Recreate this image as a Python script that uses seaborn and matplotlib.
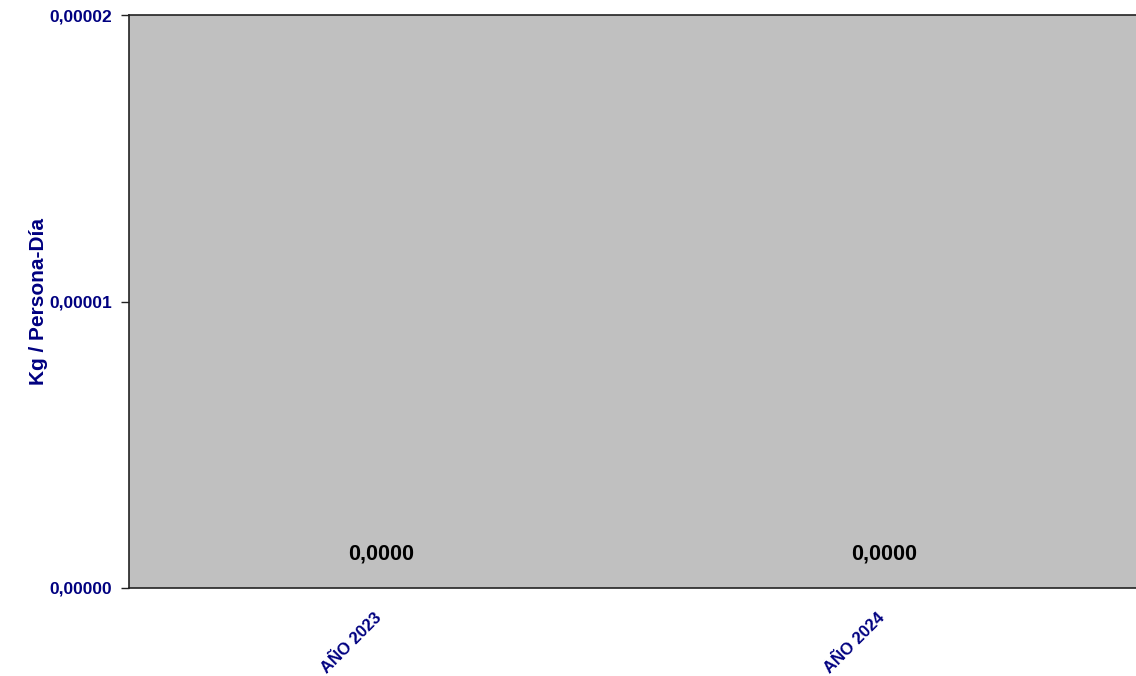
import numpy as np
import pandas as pd
import seaborn as sns
import matplotlib.pyplot as plt
import matplotlib.transforms as mtransforms
from matplotlib.ticker import FuncFormatter, FixedLocator

# data
years = ["AÑO 2023", "AÑO 2024"]
kg_persona_dia = [0.0, 0.0]
y_ticks = [0.0, 0.00001, 0.00002]

sns.set_theme(style="white")
plt.rcParams['font.family'] = ['Liberation Sans', 'DejaVu Sans']

navy = "#000080"
df = pd.DataFrame({"anio": years, "valor": kg_persona_dia})

fig = plt.figure(figsize=(11.36, 6.76), dpi=100)
ax = fig.add_axes([129 / 1136, 88 / 676, 1 - 129 / 1136, (588 - 15) / 676])
ax.set_facecolor("#C0C0C0")

sns.barplot(data=df, x="anio", y="valor", color="#9999FF", ax=ax, width=0.5)

ax.set_xlim(-0.5, 1.5)
ax.set_ylim(y_ticks[0], y_ticks[-1])
ax.yaxis.set_major_locator(FixedLocator(y_ticks))
ax.yaxis.set_major_formatter(FuncFormatter(lambda v, p: f"{v:.5f}".replace(".", ",")))

# category boundaries get the tick marks, labels sit in the middle
ax.set_xticks(range(len(years)))
ax.set_xticklabels(years, rotation=45, ha="right", rotation_mode="anchor",
                   fontsize=12, fontweight="bold", color=navy)
ax.set_xticks([-0.5, 0.5, 1.5], minor=True)
ax.tick_params(axis="x", which="major", length=0, pad=16)
ax.tick_params(axis="x", which="minor", length=5, width=1, color="#222222", direction="out")
ax.tick_params(axis="y", length=6, width=1, color="#222222", direction="out", left=True,
               labelsize=12.5, labelcolor=navy, pad=6)
for t in ax.get_yticklabels():
    t.set_fontweight("bold")

# excel puts the rotated labels a touch left of the category centre
shift = mtransforms.ScaledTranslation(-7 / 100, 0, fig.dpi_scale_trans)
for t in ax.get_xticklabels():
    t.set_transform(t.get_transform() + shift)

ax.set_xlabel("")
ax.set_ylabel("Kg / Persona-Día", fontsize=15, fontweight="bold", color=navy)
ax.yaxis.set_label_coords(-0.08, 0.5)

for side in ["left", "bottom", "top"]:
    ax.spines[side].set_visible(True)
    ax.spines[side].set_color("#222222")
    ax.spines[side].set_linewidth(1.2)
ax.spines["right"].set_visible(False)

for c in ax.containers:
    ax.bar_label(c, labels=[f"{v:.4f}".replace(".", ",") for v in kg_persona_dia],
                 padding=17, fontsize=15.5, fontweight="bold", color="black")

fig.savefig("out.png", dpi=100)
